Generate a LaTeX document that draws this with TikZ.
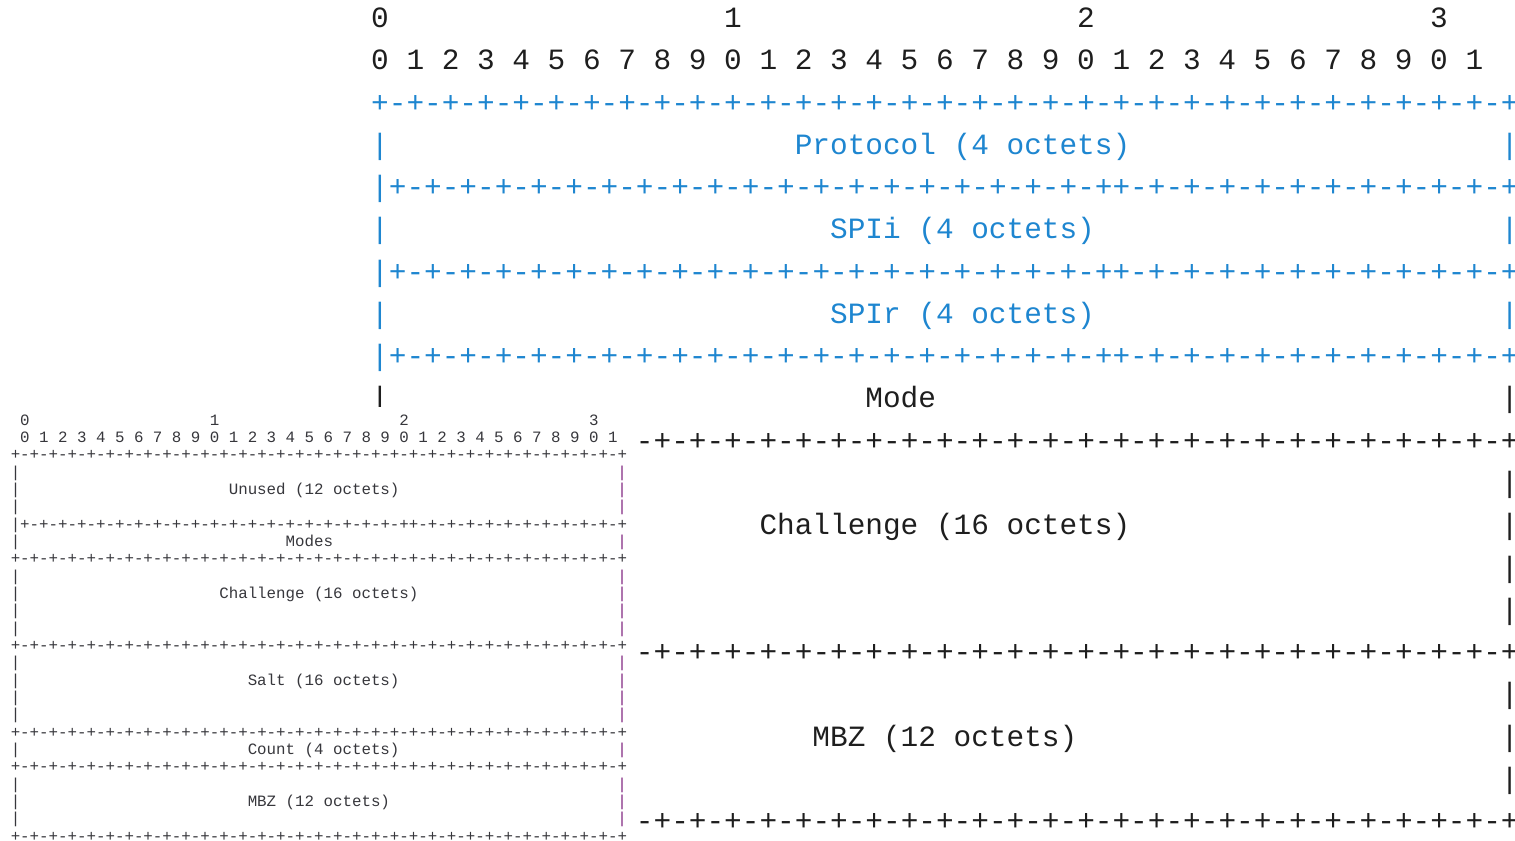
\documentclass[tikz,border=0pt]{standalone}
\usepackage{fontspec}
\newfontfamily\monof{Liberation Mono}
\definecolor{rfcblue}{RGB}{30,134,208}
\definecolor{rfcblack}{RGB}{30,30,30}
\definecolor{smgray}{RGB}{55,55,60}
\definecolor{smpurple}{RGB}{130,40,130}
\def\pmfour{+-+-+-+-}
\def\mpfour{-+-+-+-+}
\def\fullline{\pmfour\pmfour\pmfour\pmfour\pmfour\pmfour\pmfour\pmfour+}
\def\oddline{\pmfour\pmfour\pmfour\pmfour\pmfour++\mpfour\mpfour-+-+-+}
\tikzset{
  bigtxt/.style={font=\monof\fontsize{29.53}{32}\selectfont, anchor=base west, inner sep=0pt, outer sep=0pt},
  bk/.style={bigtxt, text=rfcblack},
  bl/.style={bigtxt, text=rfcblue},
  smtxt/.style={font=\monof\fontsize{15.86}{17}\selectfont, anchor=base west, inner sep=0pt, outer sep=0pt, text=smgray},
  smbar/.style={smtxt, text=smpurple}
}
\newcommand\bt[5]{\node[#4] (#1) at ({371.2+17.65*(#3)},{27.5+42.27*(#2)}) {#5};}
\newcommand\st[5]{\node[#4] (#1) at ({10.76+9.48*(#3)},{425.2+17.33*(#2)}) {#5};}
\begin{document}
\begin{tikzpicture}[x=1bp,y=-1bp]
\useasboundingbox (0,0) rectangle (1515,840);
\fill[white] (0,0) rectangle (1515,840);
% ---------- big diagram ----------
\bt{b0a}{0}{0}{bk}{0}
\bt{b0b}{0}{20}{bk}{1}
\bt{b0c}{0}{40}{bk}{2}
\bt{b0d}{0}{60}{bk}{3}
\foreach \d [count=\k from 0] in {0,1,2,3,4,5,6,7,8,9,0,1,2,3,4,5,6,7,8,9,0,1,2,3,4,5,6,7,8,9,0,1}
  {\bt{b1-\k}{1}{2*\k}{bk}{\d}}
\bt{b2}{2}{0}{bl}{\fullline}
\bt{b3l}{3}{0}{bl}{|}
\bt{b3t}{3}{24}{bl}{Protocol (4 octets)}
\bt{b3r}{3}{64}{bl}{|}
\bt{b4l}{4}{0}{bl}{|}
\bt{b4}{4}{1}{bl}{\oddline}
\bt{b5l}{5}{0}{bl}{|}
\bt{b5t}{5}{26}{bl}{SPIi (4 octets)}
\bt{b5r}{5}{64}{bl}{|}
\bt{b6l}{6}{0}{bl}{|}
\bt{b6}{6}{1}{bl}{\oddline}
\bt{b7l}{7}{0}{bl}{|}
\bt{b7t}{7}{26}{bl}{SPIr (4 octets)}
\bt{b7r}{7}{64}{bl}{|}
\bt{b8l}{8}{0}{bl}{|}
\bt{b8}{8}{1}{bl}{\oddline}
\bt{b9l}{9}{0}{bk}{|}
\bt{b9t}{9}{28}{bk}{Mode}
\bt{b9r}{9}{64}{bk}{|}
\bt{b10}{10}{0}{bk}{\fullline}
\foreach \r in {11,12,13,14,16,17,18}
  {\bt{bl-\r}{\r}{0}{bk}{|}\bt{br-\r}{\r}{64}{bk}{|}}
\bt{b12t}{12}{22}{bk}{Challenge (16 octets)}
\bt{b15}{15}{0}{bk}{\fullline}
\bt{b17t}{17}{25}{bk}{MBZ (12 octets)}
\bt{b19}{19}{0}{bk}{\fullline}
% ---------- overlay (small diagram) ----------
\fill[white] (0,407) rectangle (636,840);
\st{s0a}{0}{1}{smtxt}{0}
\st{s0b}{0}{21}{smtxt}{1}
\st{s0c}{0}{41}{smtxt}{2}
\st{s0d}{0}{61}{smtxt}{3}
\foreach \d [count=\k from 0] in {0,1,2,3,4,5,6,7,8,9,0,1,2,3,4,5,6,7,8,9,0,1,2,3,4,5,6,7,8,9,0,1}
  {\st{s1-\k}{1}{2*\k+1}{smtxt}{\d}}
\foreach \r in {2,8,13,18,20,24}
  {\st{sp-\r}{\r}{0}{smtxt}{\fullline}}
\foreach \r in {3,4,5,7,9,10,11,12,14,15,16,17,19,21,22,23}
  {\st{sl-\r}{\r}{0}{smtxt}{|}\st{sr-\r}{\r}{64}{smbar}{|}}
\st{s6l}{6}{0}{smtxt}{|}
\st{s6}{6}{1}{smtxt}{\oddline}
\st{s4t}{4}{23}{smtxt}{Unused (12 octets)}
\st{s7t}{7}{29}{smtxt}{Modes}
\st{s10t}{10}{22}{smtxt}{Challenge (16 octets)}
\st{s15t}{15}{25}{smtxt}{Salt (16 octets)}
\st{s19t}{19}{25}{smtxt}{Count (4 octets)}
\st{s22t}{22}{25}{smtxt}{MBZ (12 octets)}
\end{tikzpicture}
\end{document}
